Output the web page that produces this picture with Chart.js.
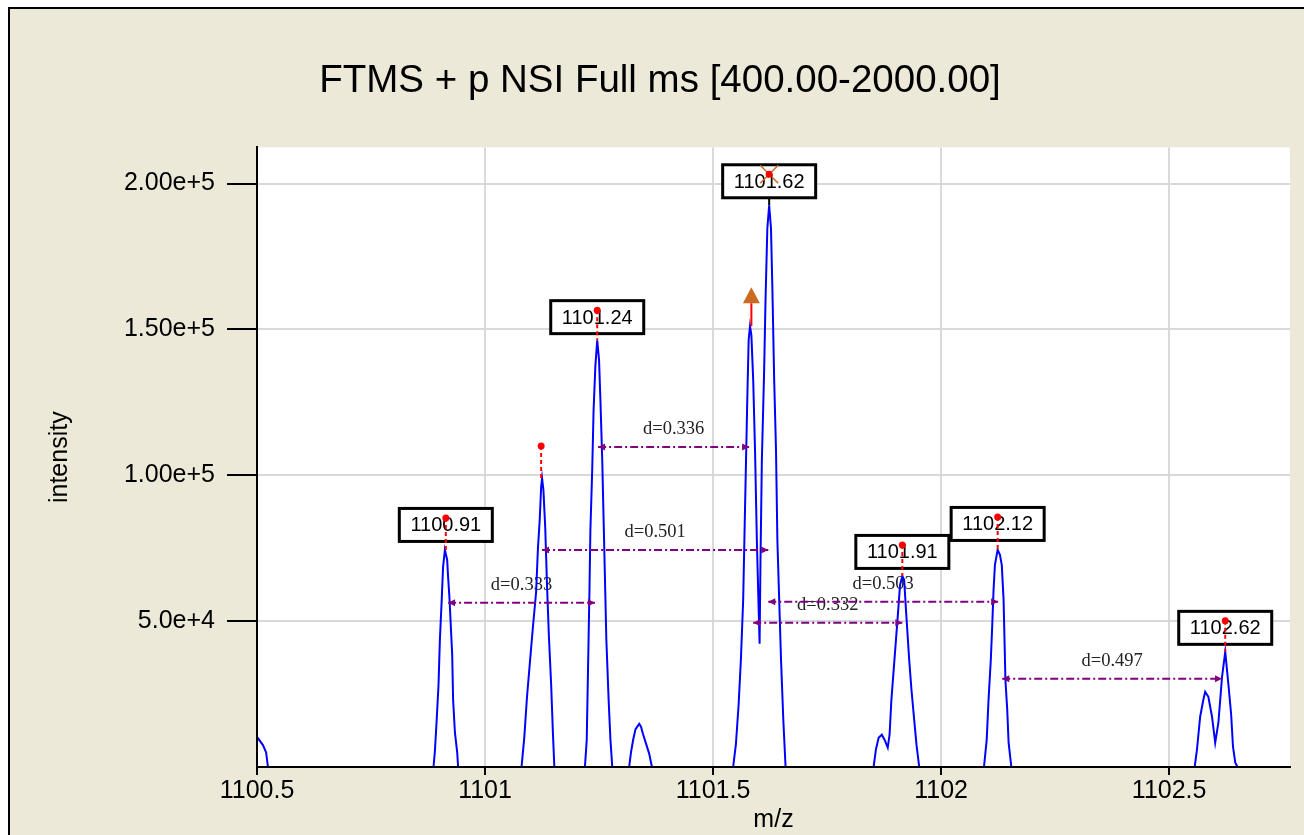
<!DOCTYPE html>
<html>
<head>
<meta charset="utf-8">
<title>FTMS + p NSI Full ms</title>
<script src="https://cdn.jsdelivr.net/npm/chart.js@4/dist/chart.umd.min.js"></script>
<style>
  html, body { margin: 0; padding: 0; background: #fff; overflow: hidden; }
  #spectrum { display: block; }
</style>
</head>
<body>
<canvas id="spectrum" width="1320" height="860" style="width:1320px;height:860px"></canvas>
<script>
// Zoomed FTMS spectrum with peak labels and isotope spacing marks

const xTicks = [1100.5, 1101, 1101.5, 1102, 1102.5];
const xTickLabels = ['1100.5', '1101', '1101.5', '1102', '1102.5'];
const yTicks = [50000, 100000, 150000, 200000];
const yTickLabels = ['5.0e+4', '1.00e+5', '1.50e+5', '2.00e+5'];

// profile points (m/z, intensity), one group per peak
const profileMz = [
    1100.500, 1100.513, 1100.520, 1100.524,
    1100.887, 1100.890, 1100.894, 1100.898, 1100.901, 1100.905, 1100.908, 1100.912,
    1100.917, 1100.919, 1100.922, 1100.928, 1100.930, 1100.934, 1100.939, 1100.941,
    1101.080, 1101.086, 1101.092, 1101.099, 1101.105, 1101.112, 1101.116, 1101.120, 1101.123,
    1101.125, 1101.128, 1101.132, 1101.136, 1101.140, 1101.145, 1101.149, 1101.152,
    1101.219, 1101.223, 1101.225, 1101.227, 1101.229, 1101.231, 1101.235, 1101.238, 1101.242, 1101.246,
    1101.250, 1101.253, 1101.257, 1101.260, 1101.263, 1101.266, 1101.271, 1101.275, 1101.279,
    1101.316, 1101.320, 1101.325, 1101.330, 1101.338, 1101.342, 1101.346, 1101.353, 1101.360, 1101.366,
    1101.544, 1101.550, 1101.556, 1101.561, 1101.566, 1101.570, 1101.575, 1101.578, 1101.581, 1101.584,
    1101.588, 1101.592, 1101.596, 1101.600, 1101.602, 1101.604, 1101.607, 1101.612, 1101.615, 1101.619,
    1101.623, 1101.627, 1101.630, 1101.634, 1101.638, 1101.641, 1101.645, 1101.649, 1101.654, 1101.659,
    1101.852, 1101.857, 1101.863, 1101.870, 1101.876, 1101.883, 1101.887, 1101.891, 1101.896, 1101.901,
    1101.906, 1101.910, 1101.915, 1101.919, 1101.923, 1101.930, 1101.935, 1101.941, 1101.946, 1101.952,
    1102.094, 1102.100, 1102.104, 1102.109, 1102.112, 1102.115, 1102.118, 1102.124,
    1102.129, 1102.133, 1102.137, 1102.139, 1102.141, 1102.145, 1102.148, 1102.154,
    1102.556, 1102.561, 1102.568, 1102.575, 1102.579, 1102.586, 1102.594, 1102.601, 1102.608,
    1102.612, 1102.616, 1102.623, 1102.630, 1102.636, 1102.640, 1102.645, 1102.650
];
const profileIntensity = [
    10300, 7500, 5000, 0,
    0, 5240, 16200, 28190, 43600, 57290, 68600, 74420,
    71000, 65170, 57980, 38460, 23050, 11750, 4900, 0,
    0, 10000, 24000, 37000, 48000, 60000, 75000, 85000, 96000,
    99000, 95000, 82000, 62000, 45000, 28000, 11000, 0,
    0, 9300, 26500, 43600, 60700, 81200, 101800, 122300, 137700, 146300,
    139500, 125800, 105200, 84700, 64200, 43600, 23000, 9300, 0,
    0, 5000, 9500, 13000, 14800, 13800, 11500, 8000, 4500, 0,
    0, 7640, 21340, 36750, 57300, 88120, 125790, 146340, 151130, 148050,
    132640, 108660, 77840, 53870, 42230, 70990, 105240, 136060, 160040, 184690,
    192570, 184690, 164490, 132640, 108660, 77840, 57300, 36750, 16180, 0,
    0, 5920, 10030, 11060, 9350, 6610, 11060, 23050, 33320, 43600,
    53870, 62430, 65510, 64140, 53870, 36750, 26470, 16180, 7640, 0,
    0, 9350, 23050, 36750, 48050, 60720, 69280, 74420,
    72710, 69280, 57290, 43600, 29900, 19620, 8320, 0,
    0, 5920, 17230, 23050, 25790, 24080, 17230, 8320, 15170,
    23050, 30930, 39490, 28190, 17910, 6950, 1470, 0
];

// labelled centroids
const peakLabelMz = [1100.914, 1101.246, 1101.623, 1101.915, 1102.124, 1102.623];
const peakLabelText = ['1100.91', '1101.24', '1101.62', '1101.91', '1102.12', '1102.62'];
const peakCentroidIntensity = [85380, 156610, 203190, 76130, 85720, 50100];
const selectedPeakMz = 1101.623;

// unlabelled centroid and precursor marker
const extraCentroidMz = [1101.123];
const extraCentroidIntensity = [110030];
const precursorMz = 1101.584;
const precursorIntensity = 159000;

// spacing marks
const distFromMz = [1100.919, 1101.248, 1101.125, 1101.621, 1101.588, 1102.134];
const distToMz = [1101.241, 1101.579, 1101.621, 1102.125, 1101.915, 1102.616];
const distIntensity = [56270, 109690, 74420, 56610, 49420, 30240];
const distLabels = ['d=0.333', 'd=0.336', 'd=0.501', 'd=0.503', 'd=0.332', 'd=0.497'];

const SANS = "'Liberation Sans', Arial, sans-serif";
const SERIF = "'Liberation Serif', 'Times New Roman', serif";

const apexNear = (mz) => {
    let best = 0;
    profileMz.forEach((m, i) => {
        if (Math.abs(m - mz) < 0.006 && profileIntensity[i] > best) best = profileIntensity[i];
    });
    return best;
};

const arrowHead = (ctx, x, y, dir) => {
    ctx.beginPath();
    ctx.moveTo(x, y);
    ctx.lineTo(x - dir * 7, y - 3.5);
    ctx.lineTo(x - dir * 7, y + 3.5);
    ctx.closePath();
    ctx.fill();
};

const spectrumNotes = {
    id: 'spectrumNotes',
    beforeDraw(chart) {
        const { ctx, width, height, chartArea: a } = chart;
        ctx.save();
        ctx.fillStyle = '#ffffff';
        ctx.fillRect(0, 0, width, height);
        ctx.fillStyle = '#ECE9D8';
        ctx.fillRect(9, 8, width, height);
        ctx.strokeStyle = '#000000';
        ctx.lineWidth = 2;
        ctx.strokeRect(9, 8, width + 20, height + 20);
        ctx.fillStyle = '#ffffff';
        ctx.fillRect(a.left, a.top, a.right - a.left, a.bottom - a.top);
        ctx.restore();
    },
    beforeDatasetsDraw(chart) {
        const { ctx, scales: { x, y } } = chart;
        ctx.save();
        ctx.font = '18.5px ' + SERIF;
        ctx.fillStyle = '#222222';
        ctx.textAlign = 'center';
        ctx.textBaseline = 'middle';
        distLabels.forEach((txt, i) => {
            const cx = (x.getPixelForValue(distFromMz[i]) + x.getPixelForValue(distToMz[i])) / 2;
            ctx.fillText(txt, cx, y.getPixelForValue(distIntensity[i]) - 18);
        });
        ctx.restore();
    },
    afterDatasetsDraw(chart) {
        const { ctx, scales: { x, y } } = chart;
        ctx.save();

        // spacing arrows
        ctx.strokeStyle = '#800080';
        ctx.fillStyle = '#800080';
        ctx.lineWidth = 2;
        distLabels.forEach((txt, i) => {
            const x1 = x.getPixelForValue(distFromMz[i]);
            const x2 = x.getPixelForValue(distToMz[i]);
            const py = y.getPixelForValue(distIntensity[i]);
            ctx.setLineDash([8, 3, 2, 3]);
            ctx.beginPath();
            ctx.moveTo(x1, py);
            ctx.lineTo(x2, py);
            ctx.stroke();
            ctx.setLineDash([]);
            arrowHead(ctx, x1, py, -1);
            arrowHead(ctx, x2, py, 1);
        });

        // selected peak stem
        const sx = x.getPixelForValue(selectedPeakMz);
        ctx.strokeStyle = '#000000';
        ctx.lineWidth = 2;
        ctx.beginPath();
        ctx.moveTo(sx, y.getPixelForValue(apexNear(selectedPeakMz)));
        ctx.lineTo(sx, y.getPixelForValue(peakCentroidIntensity[peakLabelMz.indexOf(selectedPeakMz)]));
        ctx.stroke();

        // precursor triangle
        const tx = x.getPixelForValue(precursorMz);
        const ty = y.getPixelForValue(precursorIntensity);
        ctx.strokeStyle = '#FF0000';
        ctx.beginPath();
        ctx.moveTo(tx, y.getPixelForValue(apexNear(precursorMz)));
        ctx.lineTo(tx, ty);
        ctx.stroke();
        ctx.fillStyle = '#CD6A22';
        ctx.beginPath();
        ctx.moveTo(tx, ty - 16);
        ctx.lineTo(tx + 8.5, ty);
        ctx.lineTo(tx - 8.5, ty);
        ctx.closePath();
        ctx.fill();

        // label boxes
        ctx.font = '20px ' + SANS;
        ctx.textAlign = 'center';
        ctx.textBaseline = 'middle';
        peakLabelMz.forEach((mz, i) => {
            const cx = x.getPixelForValue(mz);
            const cy = y.getPixelForValue(peakCentroidIntensity[i]) + 7;
            ctx.fillStyle = '#ffffff';
            ctx.fillRect(cx - 46.5, cy - 16.5, 93, 33);
            ctx.strokeStyle = '#000000';
            ctx.lineWidth = 3;
            ctx.strokeRect(cx - 46.5, cy - 16.5, 93, 33);
            ctx.fillStyle = '#000000';
            ctx.fillText(peakLabelText[i], cx, cy + 1);
        });

        // centroid stems and dots
        const stems = peakLabelMz.map((mz, i) => [mz, peakCentroidIntensity[i]])
            .filter(p => p[0] !== selectedPeakMz)
            .concat(extraCentroidMz.map((mz, i) => [mz, extraCentroidIntensity[i]]));
        ctx.strokeStyle = '#FF0000';
        ctx.fillStyle = '#FF0000';
        ctx.lineWidth = 2;
        stems.forEach(([mz, inten]) => {
            const px = x.getPixelForValue(mz);
            const top = y.getPixelForValue(inten);
            ctx.setLineDash([4, 3]);
            ctx.beginPath();
            ctx.moveTo(px, top);
            ctx.lineTo(px, y.getPixelForValue(apexNear(mz)));
            ctx.stroke();
            ctx.setLineDash([]);
            ctx.beginPath();
            ctx.arc(px, top, 3.5, 0, Math.PI * 2);
            ctx.fill();
        });

        // selected peak cross
        const sy = y.getPixelForValue(peakCentroidIntensity[peakLabelMz.indexOf(selectedPeakMz)]);
        ctx.strokeStyle = '#CD6A22';
        ctx.lineWidth = 1.5;
        ctx.beginPath();
        ctx.moveTo(sx - 9, sy - 9);
        ctx.lineTo(sx + 9, sy + 9);
        ctx.moveTo(sx + 9, sy - 9);
        ctx.lineTo(sx - 9, sy + 9);
        ctx.stroke();
        ctx.fillStyle = '#FF0000';
        ctx.beginPath();
        ctx.arc(sx, sy, 3.5, 0, Math.PI * 2);
        ctx.fill();

        ctx.restore();
    }
};

new Chart(document.getElementById('spectrum'), {
    type: 'line',
    data: {
        datasets: [{
            data: profileMz.map((m, i) => ({ x: m, y: profileIntensity[i] })),
            borderColor: '#0000FF',
            borderWidth: 2,
            pointRadius: 0,
            tension: 0,
            fill: false
        }]
    },
    options: {
        responsive: false,
        animation: false,
        devicePixelRatio: 1,
        events: [],
        layout: { padding: { left: 30, right: 30, top: 0, bottom: 0 } },
        plugins: {
            legend: { display: false },
            tooltip: { enabled: false },
            title: {
                display: true,
                text: 'FTMS + p NSI Full ms [400.00-2000.00]',
                color: '#000000',
                font: { family: SANS, size: 38.5, weight: 'normal' },
                padding: { top: 58, bottom: 43.2 }
            }
        },
        scales: {
            x: {
                type: 'linear',
                min: 1100.5,
                max: 1102.765,
                afterBuildTicks: (scale) => { scale.ticks = xTicks.map(v => ({ value: v })); },
                afterFit: (scale) => { scale.height = 93; },
                grid: { color: '#D9D9D9', lineWidth: 2, tickColor: '#000000', tickWidth: 2, tickLength: 8 },
                border: { color: '#000000', width: 2, z: 1 },
                ticks: {
                    color: '#000000',
                    font: { family: SANS, size: 25 },
                    padding: 1,
                    maxRotation: 0,
                    autoSkip: false,
                    callback: (value) => xTickLabels[xTicks.indexOf(value)]
                },
                title: {
                    display: true,
                    text: 'm/z',
                    color: '#000000',
                    font: { family: SANS, size: 25 },
                    padding: { top: 0, bottom: 25 }
                }
            },
            y: {
                type: 'linear',
                min: 0,
                max: 212400,
                afterBuildTicks: (scale) => { scale.ticks = yTicks.map(v => ({ value: v })); },
                afterFit: (scale) => { scale.width = 227; },
                grid: { color: '#D9D9D9', lineWidth: 2, tickColor: '#000000', tickWidth: 2, tickLength: 30 },
                border: { color: '#000000', width: 2, z: 1 },
                ticks: {
                    color: '#000000',
                    font: { family: SANS, size: 25 },
                    padding: 12,
                    callback: (value) => yTickLabels[yTicks.indexOf(value)]
                },
                title: {
                    display: true,
                    text: 'intensity',
                    color: '#000000',
                    font: { family: SANS, size: 25 },
                    padding: { top: 15, bottom: 0 }
                }
            }
        }
    },
    plugins: [spectrumNotes]
});
</script>
</body>
</html>
